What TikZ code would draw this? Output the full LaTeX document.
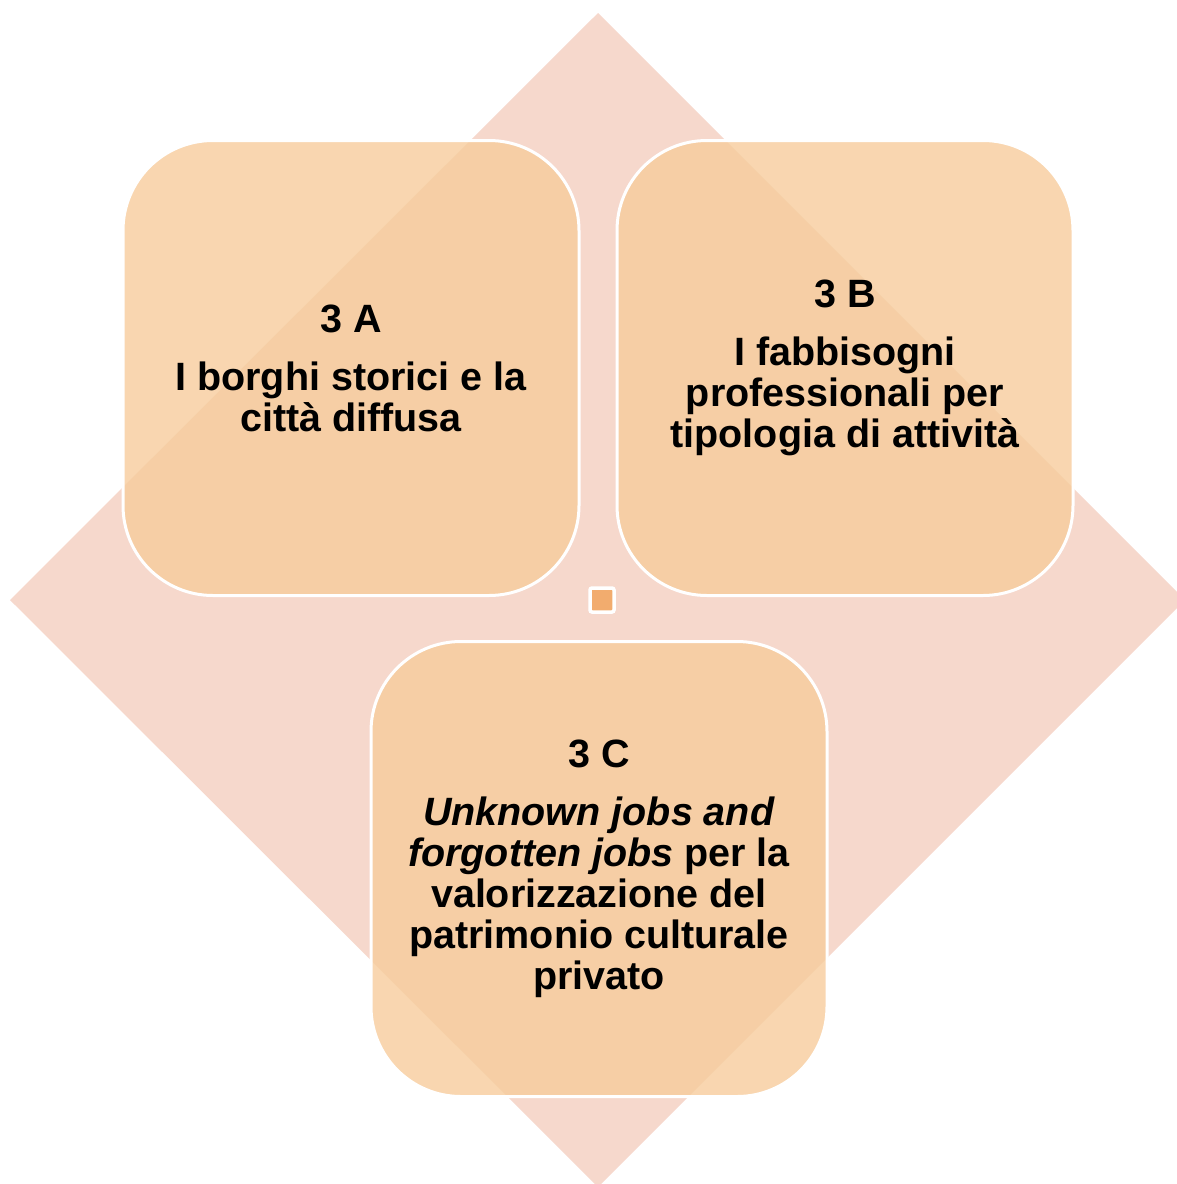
\documentclass[tikz,border=0pt]{standalone}
\usepackage{fontspec}
\setmainfont{Liberation Sans}
\usepackage{xcolor}
\definecolor{diamondcolor}{RGB}{246,216,204}
\definecolor{boxcolor}{RGB}{247,204,156}
\definecolor{hubcolor}{RGB}{242,172,110}

\begin{document}
\begin{tikzpicture}[x=1pt, y=-1pt,
    topic/.style={rectangle, rounded corners=90pt, fill=boxcolor, fill opacity=0.8,
        text opacity=1, draw=white, line width=3pt, minimum width=456pt,
        minimum height=455pt, align=center, font=\bfseries\fontsize{39.5}{41}\selectfont}]
    \useasboundingbox (0,0) rectangle (1177,1184);

    % Background diamond
    \fill[diamondcolor] (598,13) -- (1185,600) -- (598,1187) -- (10,600) -- cycle;

    % Topic boxes
    \node[topic] (boxA) at (351,368) {3 A\\[17pt] I borghi storici e la\\ città diffusa};
    \node[topic] (boxB) at (845,368) {3 B\\[17pt] I fabbisogni\\ professionali per\\ tipologia di attività};
    \node[topic] (boxC) at (599,869) {3 C\\[17pt] \textit{Unknown jobs and}\\ \textit{forgotten jobs} per la\\ valorizzazione del\\ patrimonio culturale\\ privato};

    % Centre marker
    \node[rectangle, rounded corners=2pt, fill=hubcolor, draw=white, line width=3.5pt,
        minimum size=24pt, inner sep=0pt] (hub) at (602,600) {};
\end{tikzpicture}
\end{document}
